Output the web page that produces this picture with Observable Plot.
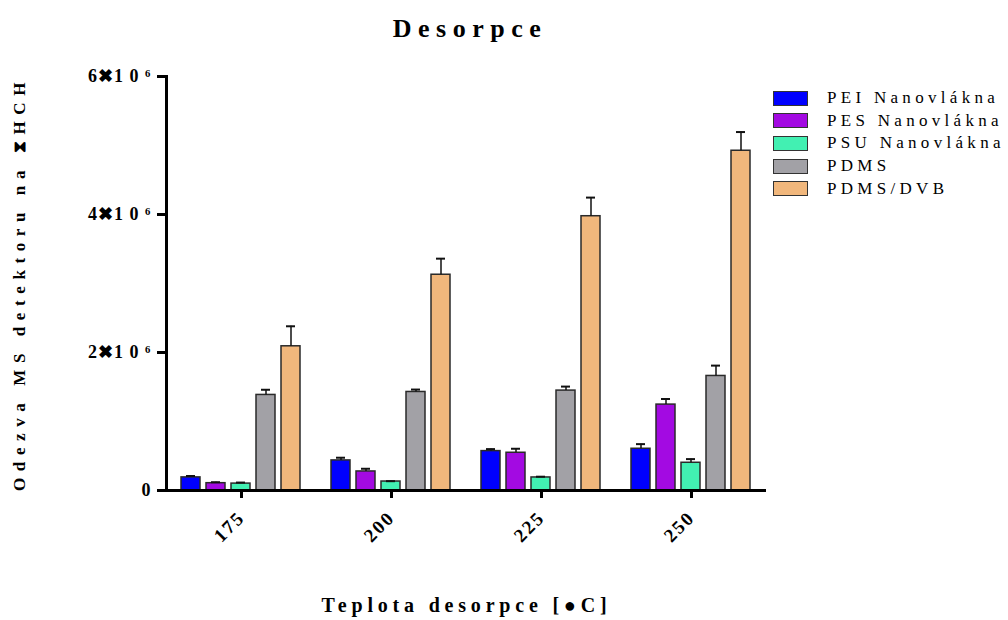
<!DOCTYPE html>
<html><head><meta charset="utf-8">
<script src="https://cdn.jsdelivr.net/npm/d3@7"></script>
<script src="https://cdn.jsdelivr.net/npm/@observablehq/plot@0.6"></script>
<style>
body{margin:0;background:#fff;font-family:"Liberation Serif",serif;color:#000;}
#wrap{position:relative;width:1008px;height:620px;overflow:hidden;}
#title{position:absolute;left:0;top:14px;width:940px;text-align:center;font-weight:bold;font-size:26px;letter-spacing:6.5px;}
#chart{position:absolute;left:0;top:50px;}
#legend{position:absolute;left:773px;top:87px;}
.item{display:flex;align-items:center;height:22.6px;}
.sw{width:33px;height:13px;border:1.5px solid #333;margin-right:19px;}
.lab{font-size:17px;letter-spacing:4.3px;white-space:nowrap;}
svg text{font-family:"Liberation Serif",serif;}
g[aria-label="y-axis label"] text{font-size:17px !important;letter-spacing:6.6px;}
g[aria-label="fx-axis label"] text{font-size:20px !important;letter-spacing:4.8px;}
g[aria-label="y-axis tick label"] text{font-size:18px !important;letter-spacing:1px;}
g[aria-label="fx-axis tick label"] text{font-size:19px !important;letter-spacing:2px;}
</style></head>
<body><div id="wrap"><div id="title">Desorpce</div><div id="chart"></div><div id="legend"></div></div>
<script>
const temps = [175, 200, 225, 250];
const series = ["PEI Nanovlákna", "PES Nanovlákna", "PSU Nanovlákna", "PDMS", "PDMS/DVB"];
const colors = ["#0000ff", "#a30ae2", "#42f0b2", "#a2a1a6", "#f1b77c"];
// mean responses (x10^6) per temperature
const peiVals  = [0.19, 0.436, 0.571, 0.605];
const pesVals  = [0.106, 0.276, 0.547, 1.245];
const psuVals  = [0.10, 0.13, 0.189, 0.402];
const pdmsVals = [1.385, 1.428, 1.448, 1.66];
const dvbVals  = [2.09, 3.127, 3.975, 4.924];
// error bar (SD, x10^6)
const peiErr  = [0.02, 0.039, 0.029, 0.067];
const pesErr  = [0.014, 0.039, 0.058, 0.081];
const psuErr  = [0.015, 0.005, 0.011, 0.053];
const pdmsErr = [0.075, 0.035, 0.058, 0.15];
const dvbErr  = [0.29, 0.233, 0.27, 0.271];
const yTicks = [0, 2e6, 4e6, 6e6];

const allVals = [peiVals, pesVals, psuVals, pdmsVals, dvbVals];
const allErr = [peiErr, pesErr, psuErr, pdmsErr, dvbErr];
const rows = [];
series.forEach((s, i) => temps.forEach((t, j) => rows.push({
  temp: t, series: s, value: allVals[i][j] * 1e6, top: (allVals[i][j] + allErr[i][j]) * 1e6
})));

const chart = Plot.plot({
  width: 1008, height: 570,
  marginLeft: 166, marginRight: 242, marginTop: 26, marginBottom: 130,
  style: {fontFamily: "Liberation Serif, serif", color: "#000", background: "transparent"},
  fx: {domain: temps, paddingInner: 0, paddingOuter: 0, label: "Teplota desorpce [●C]"},
  x: {domain: series, paddingInner: 0.23, paddingOuter: 0.5, axis: null},
  y: {domain: [0, 6e6], label: "Odezva MS detektoru na ⧗HCH"},
  color: {domain: series, range: colors},
  marks: [
    Plot.barY(rows, {fx: "temp", x: "series", y: "value", fill: "series", stroke: "#2a2a2a", strokeWidth: 1.5}),
    Plot.ruleX(rows, {fx: "temp", x: "series", y1: "value", y2: "top", stroke: "#111", strokeWidth: 1.5}),
    Plot.tickY(rows, {fx: "temp", x: "series", y: "top", insetLeft: 5, insetRight: 5, stroke: "#111", strokeWidth: 2}),
    Plot.ruleY([0], {strokeWidth: 3}),
    Plot.frame({anchor: "left", facetAnchor: "left", strokeWidth: 3}),
    Plot.axisY({ticks: yTicks, tickSize: 9, strokeWidth: 3, tickPadding: 6, fontSize: 18, fontWeight: "bold",
      tickFormat: v => v === 0 ? "0" : `${v / 1e6}✖1 0 ⁶`,
      label: "Odezva MS detektoru na ⧗HCH", labelAnchor: "center", labelOffset: 154, labelArrow: "none"}),
    Plot.axisFx({anchor: "bottom", tickSize: 8, strokeWidth: 3, tickRotate: -45, tickPadding: 16, fontSize: 19, fontWeight: "bold",
      label: "Teplota desorpce [●C]", labelAnchor: "center", labelOffset: 121, labelArrow: "none"})
  ]
});
document.getElementById("chart").appendChild(chart);

const legend = document.getElementById("legend");
series.forEach((s, i) => {
  const it = document.createElement("div"); it.className = "item";
  const sw = document.createElement("div"); sw.className = "sw"; sw.style.background = colors[i];
  const lb = document.createElement("span"); lb.className = "lab"; lb.textContent = s;
  it.appendChild(sw); it.appendChild(lb); legend.appendChild(it);
});
</script></body></html>
